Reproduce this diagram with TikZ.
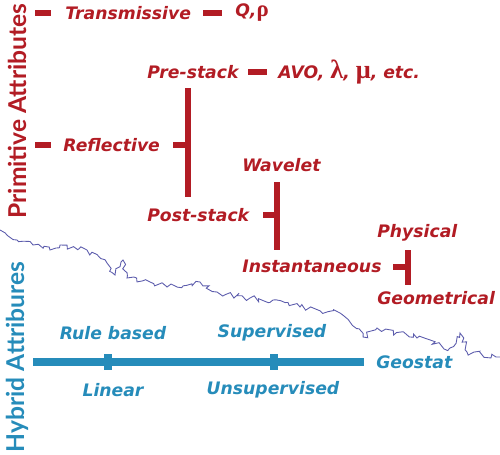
\documentclass[tikz,border=0pt]{standalone}
\usepackage{fontspec}
\setmainfont{DejaVu Sans}
\newfontfamily\titlefont{Lato}
\newfontfamily\greekfont{Liberation Serif}
\usetikzlibrary{decorations.pathmorphing}

\definecolor{primred}{RGB}{178,28,36}
\definecolor{hybblue}{RGB}{38,140,186}
\definecolor{traceline}{RGB}{92,92,172}

\begin{document}
\begin{tikzpicture}[
  x=0.02cm, y=-0.02cm,
  prim/.style={text=primred, font=\bfseries\itshape\fontsize{9.8}{12}\selectfont, inner sep=0pt, anchor=west},
  hyb/.style={text=hybblue, font=\bfseries\itshape\fontsize{9.8}{12}\selectfont, inner sep=0pt},
  sidetitle/.style={font=\titlefont\bfseries\fontsize{14}{16}\selectfont, rotate=90, inner sep=0pt},
  tie/.style={primred, line width=3.8pt},
  rail/.style={hybblue, line width=4pt},
  tickmark/.style={rectangle, fill=hybblue, inner sep=0pt, minimum width=4pt, minimum height=9pt}
]
\useasboundingbox (0,0) rectangle (500,454);

% side titles
\node[sidetitle, text=primred] (primattr) at (17,111) {Primitive Attributes};
\node[sidetitle, text=hybblue] (hybattr) at (17,357) {Hybrid Attribures};

% primitive branch
\node[prim] (trans) at (65,13) {Transmissive};
\node[prim] (qrho) at (235,13) {Q,{\greekfont\fontsize{13}{13}\selectfont\upshape ρ}};
\node[prim] (refl) at (63,145) {Reflective};
\node[prim] (pre) at (147,72) {Pre-stack};
\node[prim] (avo) at (278,72) {AVO, {\greekfont\fontsize{15}{15}\selectfont\upshape λ}, {\greekfont\fontsize{15}{15}\selectfont\upshape μ}, etc.};
\node[prim] (post) at (147,215) {Post-stack};
\node[prim] (wave) at (242,165) {Wavelet};
\node[prim] (inst) at (242,266) {Instantaneous};
\node[prim] (phys) at (377,233) {Physical};
\node[prim] (geom) at (377,298) {Geometrical};

\coordinate (stackbar) at (188,145);
\coordinate (tracebar) at (277,215);
\coordinate (instbar) at (408,267);

\draw[tie] (35,13) -- (51,13);
\draw[tie] (35,145) -- (51,145);
\draw[tie] (203,13) -- (222,13);
\draw[tie] (248,72) -- (267,72);
\draw[tie] (173,145) -- (stackbar);
\draw[tie] (188,88) -- (188,197);
\draw[tie] (263,215) -- (tracebar);
\draw[tie] (277,182) -- (277,250);
\draw[tie] (393,267) -- (instbar);
\draw[tie] (408,250) -- (408,285);

% hybrid branch
\node[hyb] (rule) at (113,333) {Rule based};
\node[hyb] (linear) at (113,390) {Linear};
\node[hyb] (super) at (272,333) {Supervised};
\node[hyb] (unsuper) at (273,390) {Unsupervised};
\node[hyb, anchor=west] (geostat) at (376,362) {Geostat};

\coordinate (railstart) at (33,362);
\draw[rail] (railstart) -- ([xshift=-7pt]geostat.west |- railstart);
\node[tickmark] (tickA) at (108,362) {};
\node[tickmark] (tickB) at (274,362) {};

% trace dividing the two groups
\pgfmathsetseed{11}
\draw[traceline, line width=0.5pt, decorate, decoration={random steps, segment length=2.2pt, amplitude=1.8pt}]
  (0,230) -- (17,240) -- (33,245) -- (50,250) -- (60,245) -- (87,250) -- (107,263) -- (115,275)
  -- (123,260) -- (127,278) -- (150,282) -- (167,287) -- (200,282) -- (217,292) -- (250,298)
  -- (273,300) -- (300,307) -- (340,313) -- (350,322) -- (363,337) -- (377,328) -- (417,338)
  -- (450,348) -- (460,333) -- (467,352) -- (500,357);
\end{tikzpicture}
\end{document}
